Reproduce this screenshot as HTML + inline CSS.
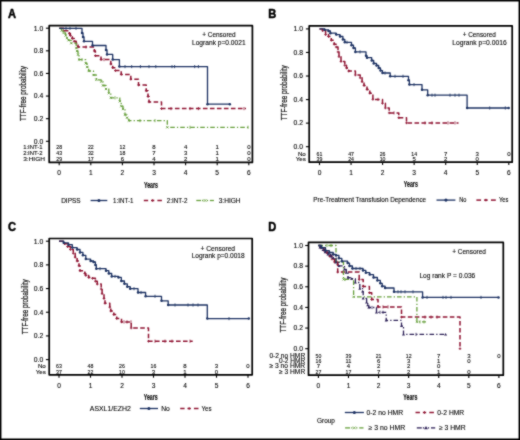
<!DOCTYPE html>
<html><head><meta charset="utf-8"><style>
html,body{margin:0;padding:0;background:#fff;width:520px;height:440px;overflow:hidden}
svg{display:block;will-change:transform}
text{font-family:"Liberation Sans", sans-serif;stroke:#222;stroke-width:0.12px}
</style></head><body>
<svg width="520" height="440" viewBox="0 0 520 440">
<defs><filter id="bl" x="0" y="0" width="1" height="1" color-interpolation-filters="sRGB"><feConvolveMatrix order="3" kernelMatrix="1 2 1 2 14 2 1 2 1" divisor="26" edgeMode="duplicate" preserveAlpha="true"/></filter></defs>
<g filter="url(#bl)" font-family='"Liberation Sans", sans-serif' stroke-linejoin="round">
<rect x="0" y="0" width="520" height="440" fill="#fff"/>
<rect x="0.7" y="0.7" width="518.6" height="438.6" fill="none" stroke="#000" stroke-width="1.5"/>
<rect x="49.2" y="25.7" width="203.2" height="136.70000000000002" fill="none" stroke="#000" stroke-width="1.7"/>
<line x1="45.900000000000006" y1="141.30" x2="49.2" y2="141.30" stroke="#000" stroke-width="1.1"/>
<text x="43.2" y="143.65" font-size="6.8" text-anchor="end">0.0</text>
<line x1="45.900000000000006" y1="118.68" x2="49.2" y2="118.68" stroke="#000" stroke-width="1.1"/>
<text x="43.2" y="121.03" font-size="6.8" text-anchor="end">0.2</text>
<line x1="45.900000000000006" y1="96.06" x2="49.2" y2="96.06" stroke="#000" stroke-width="1.1"/>
<text x="43.2" y="98.41" font-size="6.8" text-anchor="end">0.4</text>
<line x1="45.900000000000006" y1="73.44" x2="49.2" y2="73.44" stroke="#000" stroke-width="1.1"/>
<text x="43.2" y="75.79" font-size="6.8" text-anchor="end">0.6</text>
<line x1="45.900000000000006" y1="50.82" x2="49.2" y2="50.82" stroke="#000" stroke-width="1.1"/>
<text x="43.2" y="53.17" font-size="6.8" text-anchor="end">0.8</text>
<line x1="45.900000000000006" y1="28.20" x2="49.2" y2="28.20" stroke="#000" stroke-width="1.1"/>
<text x="43.2" y="30.55" font-size="6.8" text-anchor="end">1.0</text>
<line x1="59.20" y1="162.4" x2="59.20" y2="165.3" stroke="#000" stroke-width="1.1"/>
<text x="59.20" y="174.6" font-size="6.6" text-anchor="middle">0</text>
<line x1="90.80" y1="162.4" x2="90.80" y2="165.3" stroke="#000" stroke-width="1.1"/>
<text x="90.80" y="174.6" font-size="6.6" text-anchor="middle">1</text>
<line x1="122.40" y1="162.4" x2="122.40" y2="165.3" stroke="#000" stroke-width="1.1"/>
<text x="122.40" y="174.6" font-size="6.6" text-anchor="middle">2</text>
<line x1="154.00" y1="162.4" x2="154.00" y2="165.3" stroke="#000" stroke-width="1.1"/>
<text x="154.00" y="174.6" font-size="6.6" text-anchor="middle">3</text>
<line x1="185.60" y1="162.4" x2="185.60" y2="165.3" stroke="#000" stroke-width="1.1"/>
<text x="185.60" y="174.6" font-size="6.6" text-anchor="middle">4</text>
<line x1="217.20" y1="162.4" x2="217.20" y2="165.3" stroke="#000" stroke-width="1.1"/>
<text x="217.20" y="174.6" font-size="6.6" text-anchor="middle">5</text>
<line x1="248.80" y1="162.4" x2="248.80" y2="165.3" stroke="#000" stroke-width="1.1"/>
<text x="248.80" y="174.6" font-size="6.6" text-anchor="middle">6</text>
<text x="23.2" y="149.3" font-size="5.9" textLength="19.3" lengthAdjust="spacingAndGlyphs">1:INT-1</text>
<text x="59.20" y="149.3" font-size="6.0" text-anchor="middle" textLength="5.8" lengthAdjust="spacingAndGlyphs">28</text>
<text x="90.80" y="149.3" font-size="6.0" text-anchor="middle" textLength="5.8" lengthAdjust="spacingAndGlyphs">22</text>
<text x="122.40" y="149.3" font-size="6.0" text-anchor="middle" textLength="5.8" lengthAdjust="spacingAndGlyphs">12</text>
<text x="154.00" y="149.3" font-size="6.0" text-anchor="middle">8</text>
<text x="185.60" y="149.3" font-size="6.0" text-anchor="middle">4</text>
<text x="217.20" y="149.3" font-size="6.0" text-anchor="middle">1</text>
<text x="248.80" y="149.3" font-size="6.0" text-anchor="middle">0</text>
<text x="23.2" y="155.2" font-size="5.9" textLength="19.3" lengthAdjust="spacingAndGlyphs">2:INT-2</text>
<text x="59.20" y="155.2" font-size="6.0" text-anchor="middle" textLength="5.8" lengthAdjust="spacingAndGlyphs">43</text>
<text x="90.80" y="155.2" font-size="6.0" text-anchor="middle" textLength="5.8" lengthAdjust="spacingAndGlyphs">32</text>
<text x="122.40" y="155.2" font-size="6.0" text-anchor="middle" textLength="5.8" lengthAdjust="spacingAndGlyphs">18</text>
<text x="154.00" y="155.2" font-size="6.0" text-anchor="middle">7</text>
<text x="185.60" y="155.2" font-size="6.0" text-anchor="middle">3</text>
<text x="217.20" y="155.2" font-size="6.0" text-anchor="middle">1</text>
<text x="248.80" y="155.2" font-size="6.0" text-anchor="middle">0</text>
<text x="23.2" y="160.9" font-size="5.9" textLength="21.8" lengthAdjust="spacingAndGlyphs">3:HIGH</text>
<text x="59.20" y="160.9" font-size="6.0" text-anchor="middle" textLength="5.8" lengthAdjust="spacingAndGlyphs">29</text>
<text x="90.80" y="160.9" font-size="6.0" text-anchor="middle" textLength="5.8" lengthAdjust="spacingAndGlyphs">17</text>
<text x="122.40" y="160.9" font-size="6.0" text-anchor="middle">6</text>
<text x="154.00" y="160.9" font-size="6.0" text-anchor="middle">4</text>
<text x="185.60" y="160.9" font-size="6.0" text-anchor="middle">2</text>
<text x="217.20" y="160.9" font-size="6.0" text-anchor="middle">1</text>
<text x="248.80" y="160.9" font-size="6.0" text-anchor="middle">0</text>
<text x="151" y="187.6" font-size="9.2" text-anchor="middle" font-weight="bold" fill="#111" textLength="14.0" lengthAdjust="spacingAndGlyphs" style="stroke:#111;stroke-width:0.22px">Years</text>
<text transform="translate(26.3,93.5) rotate(-90)" font-size="8.6" text-anchor="middle" fill="#111" textLength="55" lengthAdjust="spacingAndGlyphs" style="stroke:#111;stroke-width:0.22px">TTF-free probability</text>
<text x="7.9" y="17.6" font-size="12.2" font-weight="bold" fill="#000" textLength="8.0" lengthAdjust="spacingAndGlyphs" style="stroke:#000;stroke-width:0.5px">A</text>
<rect x="309.2" y="25.8" width="203.00000000000006" height="136.39999999999998" fill="none" stroke="#000" stroke-width="1.7"/>
<line x1="305.9" y1="146.70" x2="309.2" y2="146.70" stroke="#000" stroke-width="1.1"/>
<text x="303.0" y="149.05" font-size="6.8" text-anchor="end">0.0</text>
<line x1="305.9" y1="123.14" x2="309.2" y2="123.14" stroke="#000" stroke-width="1.1"/>
<text x="303.0" y="125.49" font-size="6.8" text-anchor="end">0.2</text>
<line x1="305.9" y1="99.58" x2="309.2" y2="99.58" stroke="#000" stroke-width="1.1"/>
<text x="303.0" y="101.93" font-size="6.8" text-anchor="end">0.4</text>
<line x1="305.9" y1="76.02" x2="309.2" y2="76.02" stroke="#000" stroke-width="1.1"/>
<text x="303.0" y="78.37" font-size="6.8" text-anchor="end">0.6</text>
<line x1="305.9" y1="52.46" x2="309.2" y2="52.46" stroke="#000" stroke-width="1.1"/>
<text x="303.0" y="54.81" font-size="6.8" text-anchor="end">0.8</text>
<line x1="305.9" y1="28.90" x2="309.2" y2="28.90" stroke="#000" stroke-width="1.1"/>
<text x="303.0" y="31.25" font-size="6.8" text-anchor="end">1.0</text>
<line x1="319.50" y1="162.2" x2="319.50" y2="165.1" stroke="#000" stroke-width="1.1"/>
<text x="319.50" y="174.7" font-size="6.6" text-anchor="middle">0</text>
<line x1="351.05" y1="162.2" x2="351.05" y2="165.1" stroke="#000" stroke-width="1.1"/>
<text x="351.05" y="174.7" font-size="6.6" text-anchor="middle">1</text>
<line x1="382.60" y1="162.2" x2="382.60" y2="165.1" stroke="#000" stroke-width="1.1"/>
<text x="382.60" y="174.7" font-size="6.6" text-anchor="middle">2</text>
<line x1="414.15" y1="162.2" x2="414.15" y2="165.1" stroke="#000" stroke-width="1.1"/>
<text x="414.15" y="174.7" font-size="6.6" text-anchor="middle">3</text>
<line x1="445.70" y1="162.2" x2="445.70" y2="165.1" stroke="#000" stroke-width="1.1"/>
<text x="445.70" y="174.7" font-size="6.6" text-anchor="middle">4</text>
<line x1="477.25" y1="162.2" x2="477.25" y2="165.1" stroke="#000" stroke-width="1.1"/>
<text x="477.25" y="174.7" font-size="6.6" text-anchor="middle">5</text>
<line x1="508.80" y1="162.2" x2="508.80" y2="165.1" stroke="#000" stroke-width="1.1"/>
<text x="508.80" y="174.7" font-size="6.6" text-anchor="middle">6</text>
<text x="305.8" y="155.6" font-size="6.2" text-anchor="end">No</text>
<text x="319.50" y="155.6" font-size="6.0" text-anchor="middle" textLength="5.8" lengthAdjust="spacingAndGlyphs">61</text>
<text x="351.05" y="155.6" font-size="6.0" text-anchor="middle" textLength="5.8" lengthAdjust="spacingAndGlyphs">47</text>
<text x="382.60" y="155.6" font-size="6.0" text-anchor="middle" textLength="5.8" lengthAdjust="spacingAndGlyphs">26</text>
<text x="414.15" y="155.6" font-size="6.0" text-anchor="middle" textLength="5.8" lengthAdjust="spacingAndGlyphs">14</text>
<text x="445.70" y="155.6" font-size="6.0" text-anchor="middle">7</text>
<text x="477.25" y="155.6" font-size="6.0" text-anchor="middle">3</text>
<text x="508.80" y="155.6" font-size="6.0" text-anchor="middle">0</text>
<text x="305.8" y="161.0" font-size="6.2" text-anchor="end">Yes</text>
<text x="319.50" y="161.0" font-size="6.0" text-anchor="middle" textLength="5.8" lengthAdjust="spacingAndGlyphs">39</text>
<text x="351.05" y="161.0" font-size="6.0" text-anchor="middle" textLength="5.8" lengthAdjust="spacingAndGlyphs">24</text>
<text x="382.60" y="161.0" font-size="6.0" text-anchor="middle" textLength="5.8" lengthAdjust="spacingAndGlyphs">10</text>
<text x="414.15" y="161.0" font-size="6.0" text-anchor="middle">5</text>
<text x="445.70" y="161.0" font-size="6.0" text-anchor="middle">2</text>
<text x="477.25" y="161.0" font-size="6.0" text-anchor="middle">0</text>
<text x="410.8" y="187.3" font-size="9.2" text-anchor="middle" font-weight="bold" fill="#111" textLength="14.0" lengthAdjust="spacingAndGlyphs" style="stroke:#111;stroke-width:0.22px">Years</text>
<text transform="translate(286.6,92.8) rotate(-90)" font-size="8.6" text-anchor="middle" fill="#111" textLength="55" lengthAdjust="spacingAndGlyphs" style="stroke:#111;stroke-width:0.22px">TTF-free probability</text>
<text x="268.3" y="17.7" font-size="12.2" font-weight="bold" fill="#000" textLength="8.0" lengthAdjust="spacingAndGlyphs" style="stroke:#000;stroke-width:0.5px">B</text>
<rect x="49.2" y="238.5" width="203.0" height="136.3" fill="none" stroke="#000" stroke-width="1.7"/>
<line x1="45.900000000000006" y1="359.60" x2="49.2" y2="359.60" stroke="#000" stroke-width="1.1"/>
<text x="43.2" y="361.95" font-size="6.8" text-anchor="end">0.0</text>
<line x1="45.900000000000006" y1="335.92" x2="49.2" y2="335.92" stroke="#000" stroke-width="1.1"/>
<text x="43.2" y="338.27" font-size="6.8" text-anchor="end">0.2</text>
<line x1="45.900000000000006" y1="312.24" x2="49.2" y2="312.24" stroke="#000" stroke-width="1.1"/>
<text x="43.2" y="314.59" font-size="6.8" text-anchor="end">0.4</text>
<line x1="45.900000000000006" y1="288.56" x2="49.2" y2="288.56" stroke="#000" stroke-width="1.1"/>
<text x="43.2" y="290.91" font-size="6.8" text-anchor="end">0.6</text>
<line x1="45.900000000000006" y1="264.88" x2="49.2" y2="264.88" stroke="#000" stroke-width="1.1"/>
<text x="43.2" y="267.23" font-size="6.8" text-anchor="end">0.8</text>
<line x1="45.900000000000006" y1="241.20" x2="49.2" y2="241.20" stroke="#000" stroke-width="1.1"/>
<text x="43.2" y="243.55" font-size="6.8" text-anchor="end">1.0</text>
<line x1="59.00" y1="374.8" x2="59.00" y2="377.7" stroke="#000" stroke-width="1.1"/>
<text x="59.00" y="387.6" font-size="6.6" text-anchor="middle">0</text>
<line x1="90.50" y1="374.8" x2="90.50" y2="377.7" stroke="#000" stroke-width="1.1"/>
<text x="90.50" y="387.6" font-size="6.6" text-anchor="middle">1</text>
<line x1="122.00" y1="374.8" x2="122.00" y2="377.7" stroke="#000" stroke-width="1.1"/>
<text x="122.00" y="387.6" font-size="6.6" text-anchor="middle">2</text>
<line x1="153.50" y1="374.8" x2="153.50" y2="377.7" stroke="#000" stroke-width="1.1"/>
<text x="153.50" y="387.6" font-size="6.6" text-anchor="middle">3</text>
<line x1="185.00" y1="374.8" x2="185.00" y2="377.7" stroke="#000" stroke-width="1.1"/>
<text x="185.00" y="387.6" font-size="6.6" text-anchor="middle">4</text>
<line x1="216.50" y1="374.8" x2="216.50" y2="377.7" stroke="#000" stroke-width="1.1"/>
<text x="216.50" y="387.6" font-size="6.6" text-anchor="middle">5</text>
<line x1="248.00" y1="374.8" x2="248.00" y2="377.7" stroke="#000" stroke-width="1.1"/>
<text x="248.00" y="387.6" font-size="6.6" text-anchor="middle">6</text>
<text x="45.8" y="368.3" font-size="6.2" text-anchor="end">No</text>
<text x="59.00" y="368.3" font-size="6.0" text-anchor="middle" textLength="5.8" lengthAdjust="spacingAndGlyphs">63</text>
<text x="90.50" y="368.3" font-size="6.0" text-anchor="middle" textLength="5.8" lengthAdjust="spacingAndGlyphs">48</text>
<text x="122.00" y="368.3" font-size="6.0" text-anchor="middle" textLength="5.8" lengthAdjust="spacingAndGlyphs">26</text>
<text x="153.50" y="368.3" font-size="6.0" text-anchor="middle" textLength="5.8" lengthAdjust="spacingAndGlyphs">16</text>
<text x="185.00" y="368.3" font-size="6.0" text-anchor="middle">8</text>
<text x="216.50" y="368.3" font-size="6.0" text-anchor="middle">3</text>
<text x="248.00" y="368.3" font-size="6.0" text-anchor="middle">0</text>
<text x="45.8" y="373.6" font-size="6.2" text-anchor="end">Yes</text>
<text x="59.00" y="373.6" font-size="6.0" text-anchor="middle" textLength="5.8" lengthAdjust="spacingAndGlyphs">37</text>
<text x="90.50" y="373.6" font-size="6.0" text-anchor="middle" textLength="5.8" lengthAdjust="spacingAndGlyphs">22</text>
<text x="122.00" y="373.6" font-size="6.0" text-anchor="middle" textLength="5.8" lengthAdjust="spacingAndGlyphs">10</text>
<text x="153.50" y="373.6" font-size="6.0" text-anchor="middle">3</text>
<text x="185.00" y="373.6" font-size="6.0" text-anchor="middle">1</text>
<text x="216.50" y="373.6" font-size="6.0" text-anchor="middle">0</text>
<text x="150.7" y="399.8" font-size="9.2" text-anchor="middle" font-weight="bold" fill="#111" textLength="14.0" lengthAdjust="spacingAndGlyphs" style="stroke:#111;stroke-width:0.22px">Years</text>
<text transform="translate(27.8,306.8) rotate(-90)" font-size="8.6" text-anchor="middle" fill="#111" textLength="55" lengthAdjust="spacingAndGlyphs" style="stroke:#111;stroke-width:0.22px">TTF-free probability</text>
<text x="7.9" y="230.6" font-size="12.2" font-weight="bold" fill="#000" textLength="8.0" lengthAdjust="spacingAndGlyphs" style="stroke:#000;stroke-width:0.5px">C</text>
<rect x="308.5" y="242.4" width="194.8" height="132.79999999999998" fill="none" stroke="#000" stroke-width="1.7"/>
<line x1="305.2" y1="348.70" x2="308.5" y2="348.70" stroke="#000" stroke-width="1.1"/>
<text x="303.0" y="351.05" font-size="6.8" text-anchor="end">0.0</text>
<line x1="305.2" y1="328.06" x2="308.5" y2="328.06" stroke="#000" stroke-width="1.1"/>
<text x="303.0" y="330.41" font-size="6.8" text-anchor="end">0.2</text>
<line x1="305.2" y1="307.42" x2="308.5" y2="307.42" stroke="#000" stroke-width="1.1"/>
<text x="303.0" y="309.77" font-size="6.8" text-anchor="end">0.4</text>
<line x1="305.2" y1="286.78" x2="308.5" y2="286.78" stroke="#000" stroke-width="1.1"/>
<text x="303.0" y="289.13" font-size="6.8" text-anchor="end">0.6</text>
<line x1="305.2" y1="266.14" x2="308.5" y2="266.14" stroke="#000" stroke-width="1.1"/>
<text x="303.0" y="268.49" font-size="6.8" text-anchor="end">0.8</text>
<line x1="305.2" y1="245.50" x2="308.5" y2="245.50" stroke="#000" stroke-width="1.1"/>
<text x="303.0" y="247.85" font-size="6.8" text-anchor="end">1.0</text>
<line x1="318.40" y1="375.2" x2="318.40" y2="378.09999999999997" stroke="#000" stroke-width="1.1"/>
<text x="318.40" y="388.2" font-size="6.6" text-anchor="middle">0</text>
<line x1="348.48" y1="375.2" x2="348.48" y2="378.09999999999997" stroke="#000" stroke-width="1.1"/>
<text x="348.48" y="388.2" font-size="6.6" text-anchor="middle">1</text>
<line x1="378.56" y1="375.2" x2="378.56" y2="378.09999999999997" stroke="#000" stroke-width="1.1"/>
<text x="378.56" y="388.2" font-size="6.6" text-anchor="middle">2</text>
<line x1="408.64" y1="375.2" x2="408.64" y2="378.09999999999997" stroke="#000" stroke-width="1.1"/>
<text x="408.64" y="388.2" font-size="6.6" text-anchor="middle">3</text>
<line x1="438.72" y1="375.2" x2="438.72" y2="378.09999999999997" stroke="#000" stroke-width="1.1"/>
<text x="438.72" y="388.2" font-size="6.6" text-anchor="middle">4</text>
<line x1="468.80" y1="375.2" x2="468.80" y2="378.09999999999997" stroke="#000" stroke-width="1.1"/>
<text x="468.80" y="388.2" font-size="6.6" text-anchor="middle">5</text>
<line x1="498.88" y1="375.2" x2="498.88" y2="378.09999999999997" stroke="#000" stroke-width="1.1"/>
<text x="498.88" y="388.2" font-size="6.6" text-anchor="middle">6</text>
<text x="305.2" y="357.5" font-size="6.5" text-anchor="end" textLength="35.8" lengthAdjust="spacingAndGlyphs">0-2 no HMR</text>
<text x="318.40" y="357.5" font-size="6.0" text-anchor="middle" textLength="5.8" lengthAdjust="spacingAndGlyphs">50</text>
<text x="348.48" y="357.5" font-size="6.0" text-anchor="middle" textLength="5.8" lengthAdjust="spacingAndGlyphs">39</text>
<text x="378.56" y="357.5" font-size="6.0" text-anchor="middle" textLength="5.8" lengthAdjust="spacingAndGlyphs">21</text>
<text x="408.64" y="357.5" font-size="6.0" text-anchor="middle" textLength="5.8" lengthAdjust="spacingAndGlyphs">12</text>
<text x="438.72" y="357.5" font-size="6.0" text-anchor="middle">7</text>
<text x="468.80" y="357.5" font-size="6.0" text-anchor="middle">3</text>
<text x="498.88" y="357.5" font-size="6.0" text-anchor="middle">0</text>
<text x="305.2" y="362.7" font-size="6.5" text-anchor="end" textLength="26.2" lengthAdjust="spacingAndGlyphs">0-2 HMR</text>
<text x="318.40" y="362.7" font-size="6.0" text-anchor="middle" textLength="5.8" lengthAdjust="spacingAndGlyphs">16</text>
<text x="348.48" y="362.7" font-size="6.0" text-anchor="middle" textLength="5.8" lengthAdjust="spacingAndGlyphs">11</text>
<text x="378.56" y="362.7" font-size="6.0" text-anchor="middle">6</text>
<text x="408.64" y="362.7" font-size="6.0" text-anchor="middle">3</text>
<text x="438.72" y="362.7" font-size="6.0" text-anchor="middle">1</text>
<text x="468.80" y="362.7" font-size="6.0" text-anchor="middle">0</text>
<text x="305.2" y="368.2" font-size="6.5" text-anchor="end" textLength="35.8" lengthAdjust="spacingAndGlyphs">≥ 3 no HMR</text>
<text x="318.40" y="368.2" font-size="6.0" text-anchor="middle">7</text>
<text x="348.48" y="368.2" font-size="6.0" text-anchor="middle">4</text>
<text x="378.56" y="368.2" font-size="6.0" text-anchor="middle">2</text>
<text x="408.64" y="368.2" font-size="6.0" text-anchor="middle">2</text>
<text x="438.72" y="368.2" font-size="6.0" text-anchor="middle">0</text>
<text x="305.2" y="373.6" font-size="6.5" text-anchor="end" textLength="26.2" lengthAdjust="spacingAndGlyphs">≥ 3 HMR</text>
<text x="318.40" y="373.6" font-size="6.0" text-anchor="middle" textLength="5.8" lengthAdjust="spacingAndGlyphs">27</text>
<text x="348.48" y="373.6" font-size="6.0" text-anchor="middle" textLength="5.8" lengthAdjust="spacingAndGlyphs">17</text>
<text x="378.56" y="373.6" font-size="6.0" text-anchor="middle">7</text>
<text x="408.64" y="373.6" font-size="6.0" text-anchor="middle">2</text>
<text x="438.72" y="373.6" font-size="6.0" text-anchor="middle">1</text>
<text x="468.80" y="373.6" font-size="6.0" text-anchor="middle">0</text>
<text x="410.3" y="400.1" font-size="9.2" text-anchor="middle" font-weight="bold" fill="#111" textLength="14.0" lengthAdjust="spacingAndGlyphs" style="stroke:#111;stroke-width:0.22px">Years</text>
<text transform="translate(286.4,305) rotate(-90)" font-size="8.6" text-anchor="middle" fill="#111" textLength="55" lengthAdjust="spacingAndGlyphs" style="stroke:#111;stroke-width:0.22px">TTF-free probability</text>
<text x="268.2" y="230.6" font-size="12.2" font-weight="bold" fill="#000" textLength="8.0" lengthAdjust="spacingAndGlyphs" style="stroke:#000;stroke-width:0.5px">D</text>
<path d="M59.2 28.3H63.6V30.7H69.4V33.6H70.4V35.5H72.3V38.4H74.2V41.3H76.2V43.2H78.0V47.0H94.4V51.0H95.4V55.7H101.0V59.6H110.8V64.0H112.7V67.7H115.4V70.6H121.2V74.4H130.8V79.2H138.5V85.0H146.2V90.8H148.0V96.5H149.0V101.9H161.5V108.6H246" fill="none" stroke="#901533" stroke-width="1.5" stroke-dasharray="4.6 2.4"/>
<path d="M62.30 30.7H64.90M63.6 29.40V32.00" stroke="#901533" stroke-width="0.9"/>
<path d="M68.10 33.6H70.70M69.4 32.30V34.90" stroke="#901533" stroke-width="0.9"/>
<path d="M69.10 35.5H71.70M70.4 34.20V36.80" stroke="#901533" stroke-width="0.9"/>
<path d="M71.00 38.4H73.60M72.3 37.10V39.70" stroke="#901533" stroke-width="0.9"/>
<path d="M72.90 41.3H75.50M74.2 40.00V42.60" stroke="#901533" stroke-width="0.9"/>
<path d="M74.90 43.2H77.50M76.2 41.90V44.50" stroke="#901533" stroke-width="0.9"/>
<path d="M76.70 47.0H79.30M78.0 45.70V48.30" stroke="#901533" stroke-width="0.9"/>
<path d="M93.10 51.0H95.70M94.4 49.70V52.30" stroke="#901533" stroke-width="0.9"/>
<path d="M94.10 55.7H96.70M95.4 54.40V57.00" stroke="#901533" stroke-width="0.9"/>
<path d="M99.70 59.6H102.30M101.0 58.30V60.90" stroke="#901533" stroke-width="0.9"/>
<path d="M109.50 64.0H112.10M110.8 62.70V65.30" stroke="#901533" stroke-width="0.9"/>
<path d="M111.40 67.7H114.00M112.7 66.40V69.00" stroke="#901533" stroke-width="0.9"/>
<path d="M114.10 70.6H116.70M115.4 69.30V71.90" stroke="#901533" stroke-width="0.9"/>
<path d="M119.90 74.4H122.50M121.2 73.10V75.70" stroke="#901533" stroke-width="0.9"/>
<path d="M129.50 79.2H132.10M130.8 77.90V80.50" stroke="#901533" stroke-width="0.9"/>
<path d="M137.20 85.0H139.80M138.5 83.70V86.30" stroke="#901533" stroke-width="0.9"/>
<path d="M144.90 90.8H147.50M146.2 89.50V92.10" stroke="#901533" stroke-width="0.9"/>
<path d="M146.70 96.5H149.30M148.0 95.20V97.80" stroke="#901533" stroke-width="0.9"/>
<path d="M147.70 101.9H150.30M149.0 100.60V103.20" stroke="#901533" stroke-width="0.9"/>
<path d="M160.20 108.6H162.80M161.5 107.30V109.90" stroke="#901533" stroke-width="0.9"/>
<line x1="86" y1="45.4" x2="86" y2="48.6" stroke="#901533" stroke-width="0.8"/>
<line x1="104" y1="58.0" x2="104" y2="61.2" stroke="#901533" stroke-width="0.8"/>
<line x1="171" y1="107.0" x2="171" y2="110.19999999999999" stroke="#901533" stroke-width="0.8"/>
<line x1="190" y1="107.0" x2="190" y2="110.19999999999999" stroke="#901533" stroke-width="0.8"/>
<line x1="198.4" y1="107.0" x2="198.4" y2="110.19999999999999" stroke="#901533" stroke-width="0.8"/>
<line x1="244" y1="107.0" x2="244" y2="110.19999999999999" stroke="#901533" stroke-width="0.8"/>
<path d="M59.2 28.3H61.7V30.7H63.6V33.0H65.6V35.5H67.0V38.0H68.5V40.3H71.3V43.2H76.2V48.0H77.0V51.0H78.0V54.8H79.0V59.6H85.8V63.4H87.0V67.0H88.7V71.0H93.5V75.0H96.3V79.8H101.2V81.7H103.0V85.5H106.0V89.0H108.8V93.2H110.8V97.8H119.8V101.3H121.2V106.2H123.0V109.0H125.0V114.8H127.0V117.7H128.8V120.6H167.3V127.3H249.5" fill="none" stroke="#67a03c" stroke-width="1.3" stroke-dasharray="4.6 2.1 1.3 2.0"/>
<path d="M60.60 29.60L62.80 31.80M62.80 29.60L60.60 31.80" stroke="#67a03c" stroke-width="0.8"/>
<path d="M62.50 31.90L64.70 34.10M64.70 31.90L62.50 34.10" stroke="#67a03c" stroke-width="0.8"/>
<path d="M64.50 34.40L66.70 36.60M66.70 34.40L64.50 36.60" stroke="#67a03c" stroke-width="0.8"/>
<path d="M65.90 36.90L68.10 39.10M68.10 36.90L65.90 39.10" stroke="#67a03c" stroke-width="0.8"/>
<path d="M67.40 39.20L69.60 41.40M69.60 39.20L67.40 41.40" stroke="#67a03c" stroke-width="0.8"/>
<path d="M70.20 42.10L72.40 44.30M72.40 42.10L70.20 44.30" stroke="#67a03c" stroke-width="0.8"/>
<path d="M75.10 46.90L77.30 49.10M77.30 46.90L75.10 49.10" stroke="#67a03c" stroke-width="0.8"/>
<path d="M75.90 49.90L78.10 52.10M78.10 49.90L75.90 52.10" stroke="#67a03c" stroke-width="0.8"/>
<path d="M76.90 53.70L79.10 55.90M79.10 53.70L76.90 55.90" stroke="#67a03c" stroke-width="0.8"/>
<path d="M77.90 58.50L80.10 60.70M80.10 58.50L77.90 60.70" stroke="#67a03c" stroke-width="0.8"/>
<path d="M84.70 62.30L86.90 64.50M86.90 62.30L84.70 64.50" stroke="#67a03c" stroke-width="0.8"/>
<path d="M85.90 65.90L88.10 68.10M88.10 65.90L85.90 68.10" stroke="#67a03c" stroke-width="0.8"/>
<path d="M87.60 69.90L89.80 72.10M89.80 69.90L87.60 72.10" stroke="#67a03c" stroke-width="0.8"/>
<path d="M92.40 73.90L94.60 76.10M94.60 73.90L92.40 76.10" stroke="#67a03c" stroke-width="0.8"/>
<path d="M95.20 78.70L97.40 80.90M97.40 78.70L95.20 80.90" stroke="#67a03c" stroke-width="0.8"/>
<path d="M100.10 80.60L102.30 82.80M102.30 80.60L100.10 82.80" stroke="#67a03c" stroke-width="0.8"/>
<path d="M101.90 84.40L104.10 86.60M104.10 84.40L101.90 86.60" stroke="#67a03c" stroke-width="0.8"/>
<path d="M104.90 87.90L107.10 90.10M107.10 87.90L104.90 90.10" stroke="#67a03c" stroke-width="0.8"/>
<path d="M107.70 92.10L109.90 94.30M109.90 92.10L107.70 94.30" stroke="#67a03c" stroke-width="0.8"/>
<path d="M109.70 96.70L111.90 98.90M111.90 96.70L109.70 98.90" stroke="#67a03c" stroke-width="0.8"/>
<path d="M118.70 100.20L120.90 102.40M120.90 100.20L118.70 102.40" stroke="#67a03c" stroke-width="0.8"/>
<path d="M120.10 105.10L122.30 107.30M122.30 105.10L120.10 107.30" stroke="#67a03c" stroke-width="0.8"/>
<path d="M121.90 107.90L124.10 110.10M124.10 107.90L121.90 110.10" stroke="#67a03c" stroke-width="0.8"/>
<path d="M123.90 113.70L126.10 115.90M126.10 113.70L123.90 115.90" stroke="#67a03c" stroke-width="0.8"/>
<path d="M125.90 116.60L128.10 118.80M128.10 116.60L125.90 118.80" stroke="#67a03c" stroke-width="0.8"/>
<path d="M127.70 119.50L129.90 121.70M129.90 119.50L127.70 121.70" stroke="#67a03c" stroke-width="0.8"/>
<path d="M166.20 126.20L168.40 128.40M168.40 126.20L166.20 128.40" stroke="#67a03c" stroke-width="0.8"/>
<line x1="82" y1="58.0" x2="82" y2="61.2" stroke="#67a03c" stroke-width="0.8"/>
<line x1="115" y1="96.2" x2="115" y2="99.39999999999999" stroke="#67a03c" stroke-width="0.8"/>
<line x1="140" y1="119.0" x2="140" y2="122.19999999999999" stroke="#67a03c" stroke-width="0.8"/>
<line x1="155" y1="119.0" x2="155" y2="122.19999999999999" stroke="#67a03c" stroke-width="0.8"/>
<line x1="190" y1="125.7" x2="190" y2="128.9" stroke="#67a03c" stroke-width="0.8"/>
<line x1="248" y1="125.7" x2="248" y2="128.9" stroke="#67a03c" stroke-width="0.8"/>
<path d="M59.2 28.3H82.0V33.0H83.0V37.0H84.0V41.3H92.5V45.5H106.0V50.0H107.0V54.4H112.7V59.6H119.4V66.6H207.5V104.2H229.8" fill="none" stroke="#1d3263" stroke-width="1.3"/>
<circle cx="82.0" cy="33.0" r="1.25" fill="#1d3263"/>
<circle cx="83.0" cy="37.0" r="1.25" fill="#1d3263"/>
<circle cx="84.0" cy="41.3" r="1.25" fill="#1d3263"/>
<circle cx="92.5" cy="45.5" r="1.25" fill="#1d3263"/>
<circle cx="106.0" cy="50.0" r="1.25" fill="#1d3263"/>
<circle cx="107.0" cy="54.4" r="1.25" fill="#1d3263"/>
<circle cx="112.7" cy="59.6" r="1.25" fill="#1d3263"/>
<circle cx="119.4" cy="66.6" r="1.25" fill="#1d3263"/>
<circle cx="207.5" cy="104.2" r="1.25" fill="#1d3263"/>
<circle cx="229.8" cy="104.2" r="1.25" fill="#1d3263"/>
<line x1="66" y1="26.7" x2="66" y2="29.900000000000002" stroke="#1d3263" stroke-width="0.8"/>
<line x1="70" y1="26.7" x2="70" y2="29.900000000000002" stroke="#1d3263" stroke-width="0.8"/>
<line x1="76" y1="26.7" x2="76" y2="29.900000000000002" stroke="#1d3263" stroke-width="0.8"/>
<line x1="125" y1="65.0" x2="125" y2="68.19999999999999" stroke="#1d3263" stroke-width="0.8"/>
<line x1="131.7" y1="65.0" x2="131.7" y2="68.19999999999999" stroke="#1d3263" stroke-width="0.8"/>
<line x1="140.4" y1="65.0" x2="140.4" y2="68.19999999999999" stroke="#1d3263" stroke-width="0.8"/>
<line x1="149" y1="65.0" x2="149" y2="68.19999999999999" stroke="#1d3263" stroke-width="0.8"/>
<line x1="155.8" y1="65.0" x2="155.8" y2="68.19999999999999" stroke="#1d3263" stroke-width="0.8"/>
<line x1="172" y1="65.0" x2="172" y2="68.19999999999999" stroke="#1d3263" stroke-width="0.8"/>
<line x1="174.6" y1="65.0" x2="174.6" y2="68.19999999999999" stroke="#1d3263" stroke-width="0.8"/>
<line x1="194.7" y1="65.0" x2="194.7" y2="68.19999999999999" stroke="#1d3263" stroke-width="0.8"/>
<line x1="198.4" y1="65.0" x2="198.4" y2="68.19999999999999" stroke="#1d3263" stroke-width="0.8"/>
<path d="M319.5 28.9H322.7V30.7H325.6V34.6H328.5V36.5H331.3V40.3H334.2V44.2H336.2V47.0H338.0V51.9H339.0V56.7H341.0V61.5H344.8V65.3H346.5V68.0H348.7V71.1H355.4V75.0H360.2V77.8H362.1V81.7H364.0V85.5H367.0V89.4H369.8V93.2H372.9V99.4H382.5V103.3H385.4V108.0H389.2V112.9H398.8V117.7H406.5V122.9H458.5" fill="none" stroke="#901533" stroke-width="1.5" stroke-dasharray="4.6 2.4"/>
<path d="M321.40 30.7H324.00M322.7 29.40V32.00" stroke="#901533" stroke-width="0.9"/>
<path d="M324.30 34.6H326.90M325.6 33.30V35.90" stroke="#901533" stroke-width="0.9"/>
<path d="M327.20 36.5H329.80M328.5 35.20V37.80" stroke="#901533" stroke-width="0.9"/>
<path d="M330.00 40.3H332.60M331.3 39.00V41.60" stroke="#901533" stroke-width="0.9"/>
<path d="M332.90 44.2H335.50M334.2 42.90V45.50" stroke="#901533" stroke-width="0.9"/>
<path d="M334.90 47.0H337.50M336.2 45.70V48.30" stroke="#901533" stroke-width="0.9"/>
<path d="M336.70 51.9H339.30M338.0 50.60V53.20" stroke="#901533" stroke-width="0.9"/>
<path d="M337.70 56.7H340.30M339.0 55.40V58.00" stroke="#901533" stroke-width="0.9"/>
<path d="M339.70 61.5H342.30M341.0 60.20V62.80" stroke="#901533" stroke-width="0.9"/>
<path d="M343.50 65.3H346.10M344.8 64.00V66.60" stroke="#901533" stroke-width="0.9"/>
<path d="M345.20 68.0H347.80M346.5 66.70V69.30" stroke="#901533" stroke-width="0.9"/>
<path d="M347.40 71.1H350.00M348.7 69.80V72.40" stroke="#901533" stroke-width="0.9"/>
<path d="M354.10 75.0H356.70M355.4 73.70V76.30" stroke="#901533" stroke-width="0.9"/>
<path d="M358.90 77.8H361.50M360.2 76.50V79.10" stroke="#901533" stroke-width="0.9"/>
<path d="M360.80 81.7H363.40M362.1 80.40V83.00" stroke="#901533" stroke-width="0.9"/>
<path d="M362.70 85.5H365.30M364.0 84.20V86.80" stroke="#901533" stroke-width="0.9"/>
<path d="M365.70 89.4H368.30M367.0 88.10V90.70" stroke="#901533" stroke-width="0.9"/>
<path d="M368.50 93.2H371.10M369.8 91.90V94.50" stroke="#901533" stroke-width="0.9"/>
<path d="M371.60 99.4H374.20M372.9 98.10V100.70" stroke="#901533" stroke-width="0.9"/>
<path d="M381.20 103.3H383.80M382.5 102.00V104.60" stroke="#901533" stroke-width="0.9"/>
<path d="M384.10 108.0H386.70M385.4 106.70V109.30" stroke="#901533" stroke-width="0.9"/>
<path d="M387.90 112.9H390.50M389.2 111.60V114.20" stroke="#901533" stroke-width="0.9"/>
<path d="M397.50 117.7H400.10M398.8 116.40V119.00" stroke="#901533" stroke-width="0.9"/>
<path d="M405.20 122.9H407.80M406.5 121.60V124.20" stroke="#901533" stroke-width="0.9"/>
<line x1="378" y1="97.80000000000001" x2="378" y2="101.0" stroke="#901533" stroke-width="0.8"/>
<line x1="394" y1="111.30000000000001" x2="394" y2="114.5" stroke="#901533" stroke-width="0.8"/>
<line x1="425" y1="121.30000000000001" x2="425" y2="124.5" stroke="#901533" stroke-width="0.8"/>
<line x1="432" y1="121.30000000000001" x2="432" y2="124.5" stroke="#901533" stroke-width="0.8"/>
<line x1="448" y1="121.30000000000001" x2="448" y2="124.5" stroke="#901533" stroke-width="0.8"/>
<line x1="455" y1="121.30000000000001" x2="455" y2="124.5" stroke="#901533" stroke-width="0.8"/>
<path d="M319.5 28.9H324.6V29.8H328.5V31.0H330.4V33.2H336.2V34.6H340.0V36.5H342.9V39.4H344.8V42.3H351.5V45.2H353.5V48.0H355.4V51.9H366.0V55.7H367.0V57.7H371.7V60.5H373.7V63.4H376.5V65.5H378.7V68.0H380.5V70.6H382.5V73.0H390.2V76.3H408.5V80.2H409.4V84.6H422.0V89.8H427.7V95.2H467.1V108.0H508.7" fill="none" stroke="#1d3263" stroke-width="1.3"/>
<circle cx="324.6" cy="29.8" r="1.25" fill="#1d3263"/>
<circle cx="328.5" cy="31.0" r="1.25" fill="#1d3263"/>
<circle cx="330.4" cy="33.2" r="1.25" fill="#1d3263"/>
<circle cx="336.2" cy="34.6" r="1.25" fill="#1d3263"/>
<circle cx="340.0" cy="36.5" r="1.25" fill="#1d3263"/>
<circle cx="342.9" cy="39.4" r="1.25" fill="#1d3263"/>
<circle cx="344.8" cy="42.3" r="1.25" fill="#1d3263"/>
<circle cx="351.5" cy="45.2" r="1.25" fill="#1d3263"/>
<circle cx="353.5" cy="48.0" r="1.25" fill="#1d3263"/>
<circle cx="355.4" cy="51.9" r="1.25" fill="#1d3263"/>
<circle cx="366.0" cy="55.7" r="1.25" fill="#1d3263"/>
<circle cx="367.0" cy="57.7" r="1.25" fill="#1d3263"/>
<circle cx="371.7" cy="60.5" r="1.25" fill="#1d3263"/>
<circle cx="373.7" cy="63.4" r="1.25" fill="#1d3263"/>
<circle cx="376.5" cy="65.5" r="1.25" fill="#1d3263"/>
<circle cx="378.7" cy="68.0" r="1.25" fill="#1d3263"/>
<circle cx="380.5" cy="70.6" r="1.25" fill="#1d3263"/>
<circle cx="382.5" cy="73.0" r="1.25" fill="#1d3263"/>
<circle cx="390.2" cy="76.3" r="1.25" fill="#1d3263"/>
<circle cx="408.5" cy="80.2" r="1.25" fill="#1d3263"/>
<circle cx="409.4" cy="84.6" r="1.25" fill="#1d3263"/>
<circle cx="422.0" cy="89.8" r="1.25" fill="#1d3263"/>
<circle cx="427.7" cy="95.2" r="1.25" fill="#1d3263"/>
<circle cx="467.1" cy="108.0" r="1.25" fill="#1d3263"/>
<circle cx="508.7" cy="108.0" r="1.25" fill="#1d3263"/>
<line x1="347" y1="40.699999999999996" x2="347" y2="43.9" stroke="#1d3263" stroke-width="0.8"/>
<line x1="360" y1="50.3" x2="360" y2="53.5" stroke="#1d3263" stroke-width="0.8"/>
<line x1="385" y1="71.4" x2="385" y2="74.6" stroke="#1d3263" stroke-width="0.8"/>
<line x1="395" y1="74.7" x2="395" y2="77.89999999999999" stroke="#1d3263" stroke-width="0.8"/>
<line x1="403" y1="74.7" x2="403" y2="77.89999999999999" stroke="#1d3263" stroke-width="0.8"/>
<line x1="414" y1="83.0" x2="414" y2="86.19999999999999" stroke="#1d3263" stroke-width="0.8"/>
<line x1="432" y1="93.60000000000001" x2="432" y2="96.8" stroke="#1d3263" stroke-width="0.8"/>
<line x1="435" y1="93.60000000000001" x2="435" y2="96.8" stroke="#1d3263" stroke-width="0.8"/>
<line x1="450" y1="93.60000000000001" x2="450" y2="96.8" stroke="#1d3263" stroke-width="0.8"/>
<line x1="455" y1="93.60000000000001" x2="455" y2="96.8" stroke="#1d3263" stroke-width="0.8"/>
<line x1="459" y1="93.60000000000001" x2="459" y2="96.8" stroke="#1d3263" stroke-width="0.8"/>
<line x1="489.7" y1="106.4" x2="489.7" y2="109.6" stroke="#1d3263" stroke-width="0.8"/>
<line x1="505.3" y1="106.4" x2="505.3" y2="109.6" stroke="#1d3263" stroke-width="0.8"/>
<path d="M59.0 241.2H64.6V243.7H67.5V246.6H70.4V249.5H73.3V253.3H75.2V257.2H77.1V261.0H79.0V265.8H80.0V270.7H84.8V273.5H85.8V275.5H88.7V277.4H92.5V278.3H95.4V281.2H97.3V284.1H101.2V289.0H102.1V293.7H104.0V298.5H105.0V303.3H109.8V307.2H110.8V311.0H113.8V314.6H116.7V318.5H121.5V321.9H131.2V328.0H148.5V341.2H192.7" fill="none" stroke="#901533" stroke-width="1.5" stroke-dasharray="4.6 2.4"/>
<path d="M63.30 243.7H65.90M64.6 242.40V245.00" stroke="#901533" stroke-width="0.9"/>
<path d="M66.20 246.6H68.80M67.5 245.30V247.90" stroke="#901533" stroke-width="0.9"/>
<path d="M69.10 249.5H71.70M70.4 248.20V250.80" stroke="#901533" stroke-width="0.9"/>
<path d="M72.00 253.3H74.60M73.3 252.00V254.60" stroke="#901533" stroke-width="0.9"/>
<path d="M73.90 257.2H76.50M75.2 255.90V258.50" stroke="#901533" stroke-width="0.9"/>
<path d="M75.80 261.0H78.40M77.1 259.70V262.30" stroke="#901533" stroke-width="0.9"/>
<path d="M77.70 265.8H80.30M79.0 264.50V267.10" stroke="#901533" stroke-width="0.9"/>
<path d="M78.70 270.7H81.30M80.0 269.40V272.00" stroke="#901533" stroke-width="0.9"/>
<path d="M83.50 273.5H86.10M84.8 272.20V274.80" stroke="#901533" stroke-width="0.9"/>
<path d="M84.50 275.5H87.10M85.8 274.20V276.80" stroke="#901533" stroke-width="0.9"/>
<path d="M87.40 277.4H90.00M88.7 276.10V278.70" stroke="#901533" stroke-width="0.9"/>
<path d="M91.20 278.3H93.80M92.5 277.00V279.60" stroke="#901533" stroke-width="0.9"/>
<path d="M94.10 281.2H96.70M95.4 279.90V282.50" stroke="#901533" stroke-width="0.9"/>
<path d="M96.00 284.1H98.60M97.3 282.80V285.40" stroke="#901533" stroke-width="0.9"/>
<path d="M99.90 289.0H102.50M101.2 287.70V290.30" stroke="#901533" stroke-width="0.9"/>
<path d="M100.80 293.7H103.40M102.1 292.40V295.00" stroke="#901533" stroke-width="0.9"/>
<path d="M102.70 298.5H105.30M104.0 297.20V299.80" stroke="#901533" stroke-width="0.9"/>
<path d="M103.70 303.3H106.30M105.0 302.00V304.60" stroke="#901533" stroke-width="0.9"/>
<path d="M108.50 307.2H111.10M109.8 305.90V308.50" stroke="#901533" stroke-width="0.9"/>
<path d="M109.50 311.0H112.10M110.8 309.70V312.30" stroke="#901533" stroke-width="0.9"/>
<path d="M112.50 314.6H115.10M113.8 313.30V315.90" stroke="#901533" stroke-width="0.9"/>
<path d="M115.40 318.5H118.00M116.7 317.20V319.80" stroke="#901533" stroke-width="0.9"/>
<path d="M120.20 321.9H122.80M121.5 320.60V323.20" stroke="#901533" stroke-width="0.9"/>
<path d="M129.90 328.0H132.50M131.2 326.70V329.30" stroke="#901533" stroke-width="0.9"/>
<path d="M147.20 341.2H149.80M148.5 339.90V342.50" stroke="#901533" stroke-width="0.9"/>
<line x1="124" y1="320.29999999999995" x2="124" y2="323.5" stroke="#901533" stroke-width="0.8"/>
<line x1="127" y1="320.29999999999995" x2="127" y2="323.5" stroke="#901533" stroke-width="0.8"/>
<line x1="131" y1="320.29999999999995" x2="131" y2="323.5" stroke="#901533" stroke-width="0.8"/>
<line x1="155" y1="339.59999999999997" x2="155" y2="342.8" stroke="#901533" stroke-width="0.8"/>
<line x1="165" y1="339.59999999999997" x2="165" y2="342.8" stroke="#901533" stroke-width="0.8"/>
<line x1="172" y1="339.59999999999997" x2="172" y2="342.8" stroke="#901533" stroke-width="0.8"/>
<line x1="190" y1="339.59999999999997" x2="190" y2="342.8" stroke="#901533" stroke-width="0.8"/>
<path d="M59.0 241.2H63.7V242.8H68.5V244.7H72.3V247.6H77.1V249.5H80.0V252.4H82.9V255.3H85.8V259.1H90.6V261.0H93.5V262.0H95.4V264.9H96.3V268.7H106.0V270.7H108.8V273.5H111.7V276.4H118.5V277.4H121.3V281.0H124.4V283.8H127.3V286.7H130.2V288.7H138.0V292.5H145.6V296.3H161.5V300.8H168.2V305.0H207.3V318.6H248.8" fill="none" stroke="#1d3263" stroke-width="1.3"/>
<circle cx="63.7" cy="242.8" r="1.25" fill="#1d3263"/>
<circle cx="68.5" cy="244.7" r="1.25" fill="#1d3263"/>
<circle cx="72.3" cy="247.6" r="1.25" fill="#1d3263"/>
<circle cx="77.1" cy="249.5" r="1.25" fill="#1d3263"/>
<circle cx="80.0" cy="252.4" r="1.25" fill="#1d3263"/>
<circle cx="82.9" cy="255.3" r="1.25" fill="#1d3263"/>
<circle cx="85.8" cy="259.1" r="1.25" fill="#1d3263"/>
<circle cx="90.6" cy="261.0" r="1.25" fill="#1d3263"/>
<circle cx="93.5" cy="262.0" r="1.25" fill="#1d3263"/>
<circle cx="95.4" cy="264.9" r="1.25" fill="#1d3263"/>
<circle cx="96.3" cy="268.7" r="1.25" fill="#1d3263"/>
<circle cx="106.0" cy="270.7" r="1.25" fill="#1d3263"/>
<circle cx="108.8" cy="273.5" r="1.25" fill="#1d3263"/>
<circle cx="111.7" cy="276.4" r="1.25" fill="#1d3263"/>
<circle cx="118.5" cy="277.4" r="1.25" fill="#1d3263"/>
<circle cx="121.3" cy="281.0" r="1.25" fill="#1d3263"/>
<circle cx="124.4" cy="283.8" r="1.25" fill="#1d3263"/>
<circle cx="127.3" cy="286.7" r="1.25" fill="#1d3263"/>
<circle cx="130.2" cy="288.7" r="1.25" fill="#1d3263"/>
<circle cx="138.0" cy="292.5" r="1.25" fill="#1d3263"/>
<circle cx="145.6" cy="296.3" r="1.25" fill="#1d3263"/>
<circle cx="161.5" cy="300.8" r="1.25" fill="#1d3263"/>
<circle cx="168.2" cy="305.0" r="1.25" fill="#1d3263"/>
<circle cx="207.3" cy="318.6" r="1.25" fill="#1d3263"/>
<circle cx="248.8" cy="318.6" r="1.25" fill="#1d3263"/>
<line x1="100" y1="267.09999999999997" x2="100" y2="270.3" stroke="#1d3263" stroke-width="0.8"/>
<line x1="115" y1="274.79999999999995" x2="115" y2="278.0" stroke="#1d3263" stroke-width="0.8"/>
<line x1="134" y1="287.09999999999997" x2="134" y2="290.3" stroke="#1d3263" stroke-width="0.8"/>
<line x1="141" y1="290.9" x2="141" y2="294.1" stroke="#1d3263" stroke-width="0.8"/>
<line x1="155" y1="294.7" x2="155" y2="297.90000000000003" stroke="#1d3263" stroke-width="0.8"/>
<line x1="175" y1="303.4" x2="175" y2="306.6" stroke="#1d3263" stroke-width="0.8"/>
<line x1="188" y1="303.4" x2="188" y2="306.6" stroke="#1d3263" stroke-width="0.8"/>
<line x1="193" y1="303.4" x2="193" y2="306.6" stroke="#1d3263" stroke-width="0.8"/>
<line x1="198" y1="303.4" x2="198" y2="306.6" stroke="#1d3263" stroke-width="0.8"/>
<line x1="229" y1="317.0" x2="229" y2="320.20000000000005" stroke="#1d3263" stroke-width="0.8"/>
<path d="M318.4 245.5H321.0V248.0H324.0V250.5H327.0V253.0H329.5V256.0H332.0V259.0H334.5V262.0H337.7V264.7H337.7V272.1H359.2V279.6H363.2V286.4H369.4V292.7H371.7V299.5H378.0V306.9H401.5V317.1H460.0V348.7" fill="none" stroke="#901533" stroke-width="1.5" stroke-dasharray="4.6 2.4"/>
<path d="M319.70 248.0H322.30M321.0 246.70V249.30" stroke="#901533" stroke-width="0.9"/>
<path d="M322.70 250.5H325.30M324.0 249.20V251.80" stroke="#901533" stroke-width="0.9"/>
<path d="M325.70 253.0H328.30M327.0 251.70V254.30" stroke="#901533" stroke-width="0.9"/>
<path d="M328.20 256.0H330.80M329.5 254.70V257.30" stroke="#901533" stroke-width="0.9"/>
<path d="M330.70 259.0H333.30M332.0 257.70V260.30" stroke="#901533" stroke-width="0.9"/>
<path d="M333.20 262.0H335.80M334.5 260.70V263.30" stroke="#901533" stroke-width="0.9"/>
<path d="M336.40 264.7H339.00M337.7 263.40V266.00" stroke="#901533" stroke-width="0.9"/>
<path d="M336.40 272.1H339.00M337.7 270.80V273.40" stroke="#901533" stroke-width="0.9"/>
<path d="M357.90 279.6H360.50M359.2 278.30V280.90" stroke="#901533" stroke-width="0.9"/>
<path d="M361.90 286.4H364.50M363.2 285.10V287.70" stroke="#901533" stroke-width="0.9"/>
<path d="M368.10 292.7H370.70M369.4 291.40V294.00" stroke="#901533" stroke-width="0.9"/>
<path d="M370.40 299.5H373.00M371.7 298.20V300.80" stroke="#901533" stroke-width="0.9"/>
<path d="M376.70 306.9H379.30M378.0 305.60V308.20" stroke="#901533" stroke-width="0.9"/>
<path d="M400.20 317.1H402.80M401.5 315.80V318.40" stroke="#901533" stroke-width="0.9"/>
<path d="M458.70 348.7H461.30M460.0 347.40V350.00" stroke="#901533" stroke-width="0.9"/>
<line x1="343" y1="270.5" x2="343" y2="273.70000000000005" stroke="#901533" stroke-width="0.8"/>
<line x1="383" y1="305.29999999999995" x2="383" y2="308.5" stroke="#901533" stroke-width="0.8"/>
<line x1="388" y1="305.29999999999995" x2="388" y2="308.5" stroke="#901533" stroke-width="0.8"/>
<line x1="425" y1="315.5" x2="425" y2="318.70000000000005" stroke="#901533" stroke-width="0.8"/>
<line x1="431" y1="315.5" x2="431" y2="318.70000000000005" stroke="#901533" stroke-width="0.8"/>
<line x1="437" y1="315.5" x2="437" y2="318.70000000000005" stroke="#901533" stroke-width="0.8"/>
<path d="M318.4 245.5H336.0V262.0H343.5V279.4H353.6V296.9H416.9V321.9H426" fill="none" stroke="#67a03c" stroke-width="1.3" stroke-dasharray="4.6 2.1 1.3 2.0"/>
<path d="M334.90 260.90L337.10 263.10M337.10 260.90L334.90 263.10" stroke="#67a03c" stroke-width="0.8"/>
<path d="M342.40 278.30L344.60 280.50M344.60 278.30L342.40 280.50" stroke="#67a03c" stroke-width="0.8"/>
<path d="M352.50 295.80L354.70 298.00M354.70 295.80L352.50 298.00" stroke="#67a03c" stroke-width="0.8"/>
<path d="M415.80 320.80L418.00 323.00M418.00 320.80L415.80 323.00" stroke="#67a03c" stroke-width="0.8"/>
<line x1="327" y1="243.9" x2="327" y2="247.1" stroke="#67a03c" stroke-width="0.8"/>
<line x1="331" y1="243.9" x2="331" y2="247.1" stroke="#67a03c" stroke-width="0.8"/>
<line x1="345" y1="277.79999999999995" x2="345" y2="281.0" stroke="#67a03c" stroke-width="0.8"/>
<line x1="420" y1="320.29999999999995" x2="420" y2="323.5" stroke="#67a03c" stroke-width="0.8"/>
<line x1="424" y1="320.29999999999995" x2="424" y2="323.5" stroke="#67a03c" stroke-width="0.8"/>
<path d="M318.4 245.5H320.0V247.5H323.0V250.0H325.2V252.2H328.0V254.5H331.0V256.5H333.2V258.0H336.0V262.5H338.9V265.9H344.5V269.3H346.3V272.7H348.0V277.7H351.5V278.7H355.4V282.5H359.8V288.7H362.6V291.5H363.2V298.4H366.6V302.3H367.7V305.2H368.8V307.5H376.5V312.3H386.2V320.4H401.5V325.8H403.5V334.4H445.6" fill="none" stroke="#2e2258" stroke-width="1.3" stroke-dasharray="4.6 2.1 1.3 2.0"/>
<path d="M320.0 246.00L321.50 248.62L318.50 248.62Z" fill="#2e2258"/>
<path d="M323.0 248.50L324.50 251.12L321.50 251.12Z" fill="#2e2258"/>
<path d="M325.2 250.70L326.70 253.32L323.70 253.32Z" fill="#2e2258"/>
<path d="M328.0 253.00L329.50 255.62L326.50 255.62Z" fill="#2e2258"/>
<path d="M331.0 255.00L332.50 257.62L329.50 257.62Z" fill="#2e2258"/>
<path d="M333.2 256.50L334.70 259.12L331.70 259.12Z" fill="#2e2258"/>
<path d="M336.0 261.00L337.50 263.62L334.50 263.62Z" fill="#2e2258"/>
<path d="M338.9 264.40L340.40 267.02L337.40 267.02Z" fill="#2e2258"/>
<path d="M344.5 267.80L346.00 270.43L343.00 270.43Z" fill="#2e2258"/>
<path d="M346.3 271.20L347.80 273.82L344.80 273.82Z" fill="#2e2258"/>
<path d="M348.0 276.20L349.50 278.82L346.50 278.82Z" fill="#2e2258"/>
<path d="M351.5 277.20L353.00 279.82L350.00 279.82Z" fill="#2e2258"/>
<path d="M355.4 281.00L356.90 283.62L353.90 283.62Z" fill="#2e2258"/>
<path d="M359.8 287.20L361.30 289.82L358.30 289.82Z" fill="#2e2258"/>
<path d="M362.6 290.00L364.10 292.62L361.10 292.62Z" fill="#2e2258"/>
<path d="M363.2 296.90L364.70 299.52L361.70 299.52Z" fill="#2e2258"/>
<path d="M366.6 300.80L368.10 303.43L365.10 303.43Z" fill="#2e2258"/>
<path d="M367.7 303.70L369.20 306.32L366.20 306.32Z" fill="#2e2258"/>
<path d="M368.8 306.00L370.30 308.62L367.30 308.62Z" fill="#2e2258"/>
<path d="M376.5 310.80L378.00 313.43L375.00 313.43Z" fill="#2e2258"/>
<path d="M386.2 318.90L387.70 321.52L384.70 321.52Z" fill="#2e2258"/>
<path d="M401.5 324.30L403.00 326.93L400.00 326.93Z" fill="#2e2258"/>
<path d="M403.5 332.90L405.00 335.52L402.00 335.52Z" fill="#2e2258"/>
<path d="M445.6 332.90L447.10 335.52L444.10 335.52Z" fill="#2e2258"/>
<line x1="372" y1="305.9" x2="372" y2="309.1" stroke="#2e2258" stroke-width="0.8"/>
<line x1="380" y1="310.7" x2="380" y2="313.90000000000003" stroke="#2e2258" stroke-width="0.8"/>
<line x1="383" y1="310.7" x2="383" y2="313.90000000000003" stroke="#2e2258" stroke-width="0.8"/>
<line x1="416" y1="332.79999999999995" x2="416" y2="336.0" stroke="#2e2258" stroke-width="0.8"/>
<path d="M318.4 245.5H321.6V247.7H325.5V250.6H329.3V252.5H333.2V254.4H336.0V255.4H338.9V258.3H341.8V261.2H347.6V263.1H349.5V266.0H352.4V268.5H363.0V270.4H365.8V272.7H369.7V274.6H373.5V277.5H377.4V280.4H380.3V283.3H382.2V286.2H385.1V288.0H394.0V291.8H422.6V297.4H498.5" fill="none" stroke="#1d3263" stroke-width="1.3"/>
<circle cx="321.6" cy="247.7" r="1.25" fill="#1d3263"/>
<circle cx="325.5" cy="250.6" r="1.25" fill="#1d3263"/>
<circle cx="329.3" cy="252.5" r="1.25" fill="#1d3263"/>
<circle cx="333.2" cy="254.4" r="1.25" fill="#1d3263"/>
<circle cx="336.0" cy="255.4" r="1.25" fill="#1d3263"/>
<circle cx="338.9" cy="258.3" r="1.25" fill="#1d3263"/>
<circle cx="341.8" cy="261.2" r="1.25" fill="#1d3263"/>
<circle cx="347.6" cy="263.1" r="1.25" fill="#1d3263"/>
<circle cx="349.5" cy="266.0" r="1.25" fill="#1d3263"/>
<circle cx="352.4" cy="268.5" r="1.25" fill="#1d3263"/>
<circle cx="363.0" cy="270.4" r="1.25" fill="#1d3263"/>
<circle cx="365.8" cy="272.7" r="1.25" fill="#1d3263"/>
<circle cx="369.7" cy="274.6" r="1.25" fill="#1d3263"/>
<circle cx="373.5" cy="277.5" r="1.25" fill="#1d3263"/>
<circle cx="377.4" cy="280.4" r="1.25" fill="#1d3263"/>
<circle cx="380.3" cy="283.3" r="1.25" fill="#1d3263"/>
<circle cx="382.2" cy="286.2" r="1.25" fill="#1d3263"/>
<circle cx="385.1" cy="288.0" r="1.25" fill="#1d3263"/>
<circle cx="394.0" cy="291.8" r="1.25" fill="#1d3263"/>
<circle cx="422.6" cy="297.4" r="1.25" fill="#1d3263"/>
<circle cx="498.5" cy="297.4" r="1.25" fill="#1d3263"/>
<line x1="356" y1="266.9" x2="356" y2="270.1" stroke="#1d3263" stroke-width="0.8"/>
<line x1="360" y1="266.9" x2="360" y2="270.1" stroke="#1d3263" stroke-width="0.8"/>
<line x1="398" y1="290.2" x2="398" y2="293.40000000000003" stroke="#1d3263" stroke-width="0.8"/>
<line x1="401" y1="290.2" x2="401" y2="293.40000000000003" stroke="#1d3263" stroke-width="0.8"/>
<line x1="405" y1="290.2" x2="405" y2="293.40000000000003" stroke="#1d3263" stroke-width="0.8"/>
<line x1="413" y1="290.2" x2="413" y2="293.40000000000003" stroke="#1d3263" stroke-width="0.8"/>
<line x1="427" y1="295.79999999999995" x2="427" y2="299.0" stroke="#1d3263" stroke-width="0.8"/>
<line x1="443" y1="295.79999999999995" x2="443" y2="299.0" stroke="#1d3263" stroke-width="0.8"/>
<line x1="446" y1="295.79999999999995" x2="446" y2="299.0" stroke="#1d3263" stroke-width="0.8"/>
<line x1="451" y1="295.79999999999995" x2="451" y2="299.0" stroke="#1d3263" stroke-width="0.8"/>
<line x1="481" y1="295.79999999999995" x2="481" y2="299.0" stroke="#1d3263" stroke-width="0.8"/>
<text x="202.3" y="36.8" font-size="7.0" textLength="33.4" lengthAdjust="spacingAndGlyphs">+ Censored</text>
<text x="192" y="45" font-size="7.0" textLength="53.6" lengthAdjust="spacingAndGlyphs">Logrank p=0.0021</text>
<text x="462.7" y="37.2" font-size="7.0" textLength="33.2" lengthAdjust="spacingAndGlyphs">+ Censored</text>
<text x="452.2" y="45.3" font-size="7.0" textLength="54.5" lengthAdjust="spacingAndGlyphs">Logrank p=0.0016</text>
<text x="200.4" y="250.8" font-size="7.0" textLength="34.7" lengthAdjust="spacingAndGlyphs">+ Censored</text>
<text x="191.7" y="258.3" font-size="7.0" textLength="52.9" lengthAdjust="spacingAndGlyphs">Logrank p=0.0018</text>
<text x="452.2" y="254.4" font-size="7.0" textLength="33.7" lengthAdjust="spacingAndGlyphs">+ Censored</text>
<text x="419.4" y="278.1" font-size="7.0" textLength="55.9" lengthAdjust="spacingAndGlyphs">Log rank P = 0.036</text>
<text x="61.2" y="202.8" font-size="7.0" textLength="19.4" lengthAdjust="spacingAndGlyphs">DIPSS</text>
<line x1="90.6" y1="200.5" x2="107.3" y2="200.5" stroke="#1d3263" stroke-width="1.3"/>
<circle cx="98.94999999999999" cy="200.5" r="1.56" fill="#1d3263"/>
<text x="113.1" y="202.8" font-size="7.0" textLength="20.3" lengthAdjust="spacingAndGlyphs">1:INT-1</text>
<line x1="143.8" y1="200.5" x2="148.144" y2="200.5" stroke="#901533" stroke-width="1.5"/>
<line x1="151.04000000000002" y1="200.5" x2="154.298" y2="200.5" stroke="#901533" stroke-width="1.5"/>
<line x1="157.375" y1="200.5" x2="161.9" y2="200.5" stroke="#901533" stroke-width="1.5"/>
<path d="M151.37 200.5H153.97M152.669 199.20V201.80" stroke="#901533" stroke-width="0.9"/>
<text x="166.7" y="202.8" font-size="7.0" textLength="20.7" lengthAdjust="spacingAndGlyphs">2:INT-2</text>
<line x1="196.3" y1="200.5" x2="201.05200000000002" y2="200.5" stroke="#67a03c" stroke-width="1.3"/>
<line x1="202.108" y1="200.5" x2="203.34" y2="200.5" stroke="#67a03c" stroke-width="1.3"/>
<line x1="206.86" y1="200.5" x2="208.092" y2="200.5" stroke="#67a03c" stroke-width="1.3"/>
<line x1="209.852" y1="200.5" x2="213.9" y2="200.5" stroke="#67a03c" stroke-width="1.3"/>
<path d="M203.73 199.12L206.48 201.88M206.48 199.12L203.73 201.88" stroke="#67a03c" stroke-width="0.8"/>
<text x="218.7" y="202.8" font-size="7.0" textLength="21.9" lengthAdjust="spacingAndGlyphs">3:HIGH</text>
<text x="313.3" y="202.4" font-size="7.0" textLength="112.8" lengthAdjust="spacingAndGlyphs">Pre-Treatment Transfusion Dependence</text>
<line x1="436.5" y1="200.1" x2="455.4" y2="200.1" stroke="#1d3263" stroke-width="1.3"/>
<circle cx="445.95" cy="200.1" r="1.56" fill="#1d3263"/>
<text x="459.3" y="202.4" font-size="7.0" textLength="7.2" lengthAdjust="spacingAndGlyphs">No</text>
<line x1="476.4" y1="200.1" x2="481.056" y2="200.1" stroke="#901533" stroke-width="1.5"/>
<line x1="484.15999999999997" y1="200.1" x2="487.652" y2="200.1" stroke="#901533" stroke-width="1.5"/>
<line x1="490.95" y1="200.1" x2="495.8" y2="200.1" stroke="#901533" stroke-width="1.5"/>
<path d="M484.61 200.1H487.21M485.906 198.80V201.40" stroke="#901533" stroke-width="0.9"/>
<text x="498.9" y="202.4" font-size="7.0" textLength="9.4" lengthAdjust="spacingAndGlyphs">Yes</text>
<text x="89.8" y="410.8" font-size="7.0" textLength="41.0" lengthAdjust="spacingAndGlyphs">ASXL1/EZH2</text>
<line x1="139.8" y1="408.5" x2="158" y2="408.5" stroke="#1d3263" stroke-width="1.3"/>
<circle cx="148.9" cy="408.5" r="1.56" fill="#1d3263"/>
<text x="161.2" y="410.8" font-size="7.0" textLength="8.6" lengthAdjust="spacingAndGlyphs">No</text>
<line x1="180.2" y1="408.5" x2="184.59199999999998" y2="408.5" stroke="#901533" stroke-width="1.5"/>
<line x1="187.51999999999998" y1="408.5" x2="190.814" y2="408.5" stroke="#901533" stroke-width="1.5"/>
<line x1="193.925" y1="408.5" x2="198.5" y2="408.5" stroke="#901533" stroke-width="1.5"/>
<path d="M187.87 408.5H190.47M189.167 407.20V409.80" stroke="#901533" stroke-width="0.9"/>
<text x="201.6" y="410.8" font-size="7.0" textLength="10.0" lengthAdjust="spacingAndGlyphs">Yes</text>
<text x="317" y="422.6" font-size="7.0" textLength="17.9" lengthAdjust="spacingAndGlyphs">Group</text>
<line x1="344.8" y1="412.5" x2="363.9" y2="412.5" stroke="#1d3263" stroke-width="1.3"/>
<circle cx="354.35" cy="412.5" r="1.56" fill="#1d3263"/>
<text x="366.6" y="414.8" font-size="7.0" textLength="36.5" lengthAdjust="spacingAndGlyphs">0-2 no HMR</text>
<line x1="415.5" y1="412.5" x2="419.916" y2="412.5" stroke="#901533" stroke-width="1.5"/>
<line x1="422.86" y1="412.5" x2="426.17199999999997" y2="412.5" stroke="#901533" stroke-width="1.5"/>
<line x1="429.29999999999995" y1="412.5" x2="433.9" y2="412.5" stroke="#901533" stroke-width="1.5"/>
<path d="M423.22 412.5H425.82M424.51599999999996 411.20V413.80" stroke="#901533" stroke-width="0.9"/>
<text x="437.3" y="414.8" font-size="7.0" textLength="26.9" lengthAdjust="spacingAndGlyphs">0-2 HMR</text>
<line x1="345.1" y1="427.9" x2="350.06800000000004" y2="427.9" stroke="#67a03c" stroke-width="1.3"/>
<line x1="351.172" y1="427.9" x2="352.46000000000004" y2="427.9" stroke="#67a03c" stroke-width="1.3"/>
<line x1="356.14" y1="427.9" x2="357.428" y2="427.9" stroke="#67a03c" stroke-width="1.3"/>
<line x1="359.26800000000003" y1="427.9" x2="363.5" y2="427.9" stroke="#67a03c" stroke-width="1.3"/>
<path d="M352.93 426.52L355.68 429.27M355.68 426.52L352.93 429.27" stroke="#67a03c" stroke-width="0.8"/>
<text x="368.6" y="430.2" font-size="7.0" textLength="36.6" lengthAdjust="spacingAndGlyphs">≥ 3 no HMR</text>
<line x1="416.8" y1="427.9" x2="421.76800000000003" y2="427.9" stroke="#2e2258" stroke-width="1.3"/>
<line x1="422.872" y1="427.9" x2="424.16" y2="427.9" stroke="#2e2258" stroke-width="1.3"/>
<line x1="427.84" y1="427.9" x2="429.128" y2="427.9" stroke="#2e2258" stroke-width="1.3"/>
<line x1="430.968" y1="427.9" x2="435.2" y2="427.9" stroke="#2e2258" stroke-width="1.3"/>
<path d="M426.0 426.02L427.88 429.31L424.12 429.31Z" fill="#2e2258"/>
<text x="438.9" y="430.2" font-size="7.0" textLength="26.8" lengthAdjust="spacingAndGlyphs">≥ 3 HMR</text>
</g></svg>
</body></html>
